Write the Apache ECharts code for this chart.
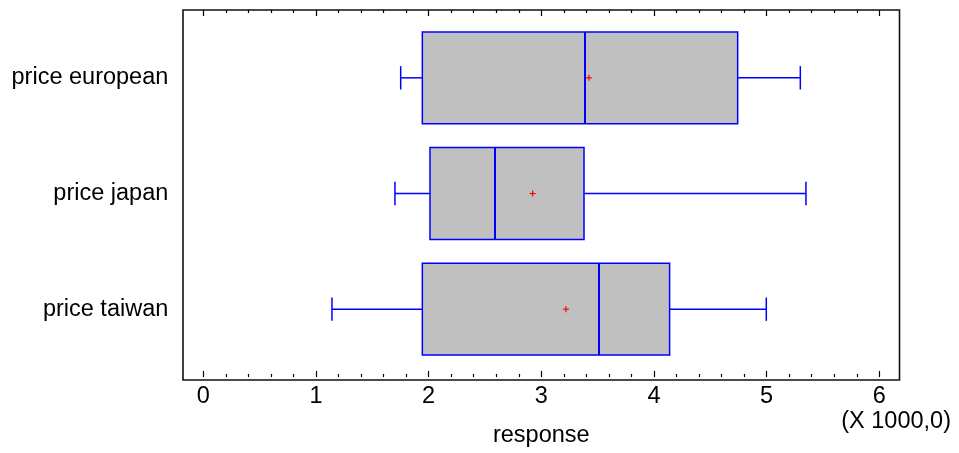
<!DOCTYPE html>
<html>
<head>
<meta charset="utf-8">
<script src="https://cdn.jsdelivr.net/npm/echarts@6/dist/echarts.min.js"></script>
<style>
html,body{margin:0;padding:0;background:#fff;}
#chart{width:959px;height:453px;}
</style>
</head>
<body>
<div id="chart"></div>
<script>
// Data (response values)
const categories = ['price european', 'price japan', 'price taiwan'];
const minValues    = [1752, 1701, 1142];
const q1Values     = [1944, 2012, 1944];
const medianValues = [3388, 2589, 3512];
const q3Values     = [4743, 3379, 4139];
const maxValues    = [5299, 5349, 4997];
const meanValues   = [3423, 2923, 3219];
const xTickValues  = [0, 1000, 2000, 3000, 4000, 5000, 6000];
const xAxisTitle = 'response';
const scaleNote = '(X 1000,0)';

const seriesData = categories.map((c, i) => [i, minValues[i], q1Values[i], medianValues[i], q3Values[i], maxValues[i], meanValues[i]]);

const FONT = 'Liberation Sans, Arial, sans-serif';
const FS = 23.5;

const chart = echarts.init(document.getElementById('chart'), null, {renderer: 'canvas'});

function renderBox(params, api) {
  const c = api.value(0);
  const y = api.coord([0, c])[1];
  const band = api.size([0, 1])[1];
  const bh = band * 0.397;
  const cap = band * 0.101;
  const px = i => api.coord([api.value(i), c])[0];
  const xmin = px(1), q1 = px(2), med = px(3), q3 = px(4), xmax = px(5), mean = px(6);
  const blue = {stroke: '#0000ff', lineWidth: 1.5, fill: null};
  const red = {stroke: '#ff0000', lineWidth: 1.2, fill: null};
  return {
    type: 'group',
    children: [
      {type: 'line', shape: {x1: xmin, y1: y, x2: q1, y2: y}, style: blue},
      {type: 'line', shape: {x1: q3, y1: y, x2: xmax, y2: y}, style: blue},
      {type: 'line', shape: {x1: xmin, y1: y - cap, x2: xmin, y2: y + cap}, style: blue},
      {type: 'line', shape: {x1: xmax, y1: y - cap, x2: xmax, y2: y + cap}, style: blue},
      {type: 'rect', shape: {x: q1, y: y - bh, width: q3 - q1, height: bh * 2}, style: {fill: '#c0c0c0', stroke: '#0000ff', lineWidth: 1.5}},
      {type: 'line', shape: {x1: med, y1: y - bh, x2: med, y2: y + bh}, style: {stroke: '#0000ff', lineWidth: 2}},
      {type: 'line', shape: {x1: mean - 3, y1: y, x2: mean + 3, y2: y}, style: red},
      {type: 'line', shape: {x1: mean, y1: y - 3, x2: mean, y2: y + 3}, style: red}
    ]
  };
}

const tickAxisCommon = {
  gridIndex: 1,
  type: 'value',
  min: xTickValues[0],
  max: xTickValues[xTickValues.length - 1],
  interval: 1000,
  offset: 10,
  axisLine: {show: false},
  axisTick: {show: true, inside: true, length: 6, lineStyle: {color: '#000', width: 1.2}},
  minorTick: {show: true, splitNumber: 5, length: 3, lineStyle: {color: '#000', width: 1.2}},
  splitLine: {show: false},
  minorSplitLine: {show: false}
};

const option = {
  backgroundColor: '#ffffff',
  animation: false,
  grid: [
    {left: 183, right: 59.5, top: 10, bottom: 73, show: true, borderColor: '#111', borderWidth: 1.6, backgroundColor: 'transparent'},
    {left: 203.3, right: 79.7, top: 20, bottom: 83}
  ],
  xAxis: [
    {gridIndex: 0, type: 'value', min: 0, max: 1, show: false},
    Object.assign({}, tickAxisCommon, {
      position: 'bottom',
      axisLabel: {show: true, margin: 8, color: '#000', fontSize: FS, fontFamily: FONT, formatter: v => String(v / 1000)},
      name: xAxisTitle,
      nameLocation: 'middle',
      nameGap: 47,
      nameTextStyle: {color: '#000', fontSize: FS, fontFamily: FONT}
    }),
    Object.assign({}, tickAxisCommon, {
      position: 'top',
      axisLabel: {show: false}
    })
  ],
  yAxis: [
    {gridIndex: 0, type: 'value', min: 0, max: 1, show: false},
    {
      gridIndex: 1,
      type: 'category',
      data: categories,
      inverse: true,
      axisLine: {show: false},
      axisTick: {show: false},
      splitLine: {show: false},
      axisLabel: {margin: 35, color: '#000', fontSize: FS, fontFamily: FONT}
    }
  ],
  graphic: [
    {type: 'text', right: 8, top: 410, style: {text: scaleNote, fill: '#000', font: FS + 'px ' + FONT}}
  ],
  series: [
    {
      type: 'custom',
      xAxisIndex: 1,
      yAxisIndex: 1,
      renderItem: renderBox,
      encode: {y: 0, x: [1, 2, 3, 4, 5, 6]},
      data: seriesData,
      clip: false
    }
  ]
};
chart.setOption(option);
</script>
</body>
</html>
